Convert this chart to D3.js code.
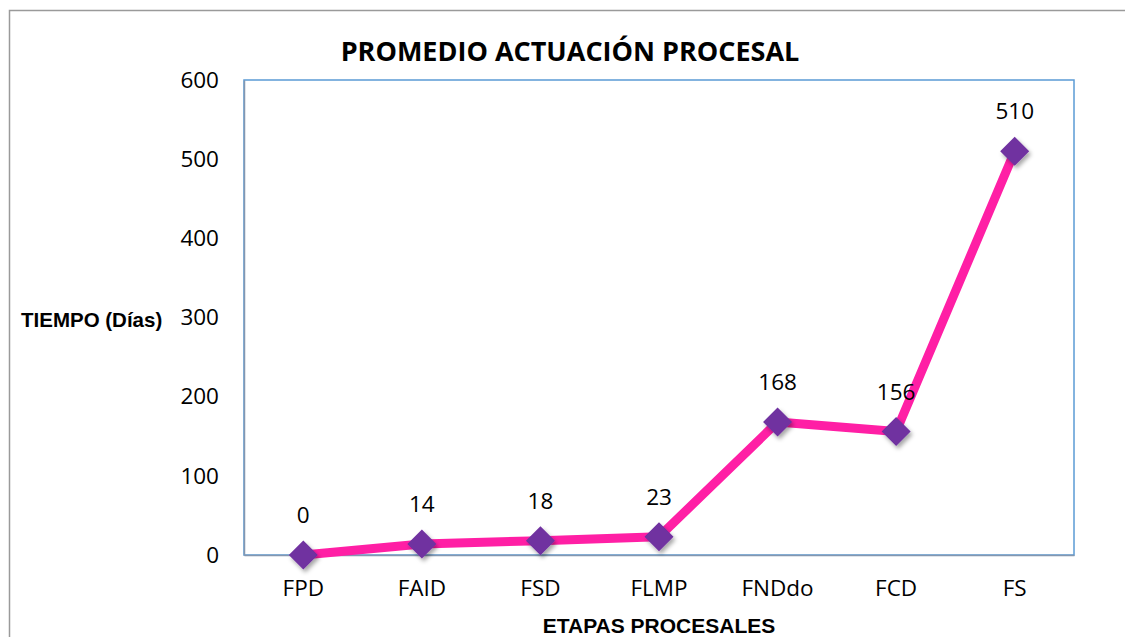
<!DOCTYPE html>
<html>
<head>
<meta charset="utf-8">
<script src="https://cdn.jsdelivr.net/npm/d3@7"></script>
<style>
  html, body { margin: 0; padding: 0; background: #fff; }
  svg { display: block; }
</style>
</head>
<body>
<svg id="chart" width="1125" height="637"></svg>
<script>
// Average duration (days) of each procedural stage
const stages = ["FPD", "FAID", "FSD", "FLMP", "FNDdo", "FCD", "FS"];
const days = [0, 14, 18, 23, 168, 156, 510];
const yTicks = [0, 100, 200, 300, 400, 500, 600];

const title = "PROMEDIO ACTUACIÓN PROCESAL";
const yTitle = "TIEMPO (Días)";
const xTitle = "ETAPAS PROCESALES";

const W = 1125, H = 637;
const plot = { left: 244, top: 80, right: 1074, bottom: 555 };
const labelFont = "'Open Sans', sans-serif";
const labelSize = 22.5;

const svg = d3.select("#chart");

// drop shadow for the markers
const defs = svg.append("defs");
const f = defs.append("filter").attr("id", "shadow")
  .attr("x", "-50%").attr("y", "-50%").attr("width", "200%").attr("height", "200%");
f.append("feDropShadow").attr("dx", 2).attr("dy", 3).attr("stdDeviation", 2.2)
  .attr("flood-color", "#000").attr("flood-opacity", 0.35);

// outer chart frame
svg.append("path")
  .attr("d", `M9.5,${H} V10.5 H${W}`)
  .attr("fill", "none").attr("stroke", "#9a9a9a").attr("stroke-width", 1.5);

const x = d3.scaleBand().domain(stages).range([plot.left, plot.right]);
const y = d3.scaleLinear().domain([0, 600]).range([plot.bottom, plot.top]);
const cx = d => x(d) + x.bandwidth() / 2;

// plot area border
svg.append("rect")
  .attr("x", plot.left).attr("y", plot.top)
  .attr("width", plot.right - plot.left).attr("height", plot.bottom - plot.top)
  .attr("fill", "none").attr("stroke", "#5b9bd5").attr("stroke-width", 1.5);

// y axis
const yAxis = svg.append("g")
  .attr("transform", `translate(${plot.left},0)`)
  .call(d3.axisLeft(y).tickValues(yTicks).tickSize(0).tickPadding(25));
yAxis.select(".domain").attr("stroke", "#8497b0").attr("stroke-width", 1.5);
yAxis.selectAll("text")
  .attr("font-family", labelFont).attr("font-size", labelSize)
  .attr("fill", "#000");

// x axis
const xAxis = svg.append("g")
  .attr("transform", `translate(0,${plot.bottom})`)
  .call(d3.axisBottom(x).tickSize(0).tickPadding(25));
xAxis.select(".domain").attr("stroke", "#8497b0").attr("stroke-width", 1.5);
xAxis.selectAll("text")
  .attr("font-family", labelFont).attr("font-size", labelSize)
  .attr("fill", "#000");

// series line
const line = d3.line().x((d, i) => cx(stages[i])).y(d => y(d));
svg.append("path")
  .datum(days)
  .attr("d", line)
  .attr("fill", "none").attr("stroke", "#ff1fa5").attr("stroke-width", 9)
  .attr("stroke-linejoin", "round");

// diamond markers
const r = 14.5;
svg.append("g").selectAll("path")
  .data(days)
  .join("path")
  .attr("d", (d, i) => {
    const px = cx(stages[i]), py = y(d);
    return `M${px},${py - r} L${px + r},${py} L${px},${py + r} L${px - r},${py} Z`;
  })
  .attr("fill", "#7030a0")
  .attr("filter", "url(#shadow)");

// value labels
svg.append("g").selectAll("text")
  .data(days)
  .join("text")
  .attr("x", (d, i) => cx(stages[i]))
  .attr("y", d => y(d) - 32)
  .attr("text-anchor", "middle")
  .attr("font-family", labelFont).attr("font-size", labelSize)
  .attr("fill", "#000")
  .text(d => d);

// titles
svg.append("text")
  .attr("x", 570).attr("y", 61)
  .attr("text-anchor", "middle")
  .attr("font-family", "'Open Sans', sans-serif").attr("font-weight", "bold")
  .attr("font-size", 27).attr("fill", "#000")
  .text(title);

svg.append("text")
  .attr("x", 21).attr("y", 327)
  .attr("font-family", "'Liberation Sans', Arial, sans-serif").attr("font-weight", "bold")
  .attr("font-size", 20.5).attr("fill", "#000")
  .text(yTitle);

svg.append("text")
  .attr("x", (plot.left + plot.right) / 2).attr("y", 633)
  .attr("text-anchor", "middle")
  .attr("font-family", "'Liberation Sans', Arial, sans-serif").attr("font-weight", "bold")
  .attr("font-size", 21).attr("fill", "#000")
  .text(xTitle);
</script>
</body>
</html>
